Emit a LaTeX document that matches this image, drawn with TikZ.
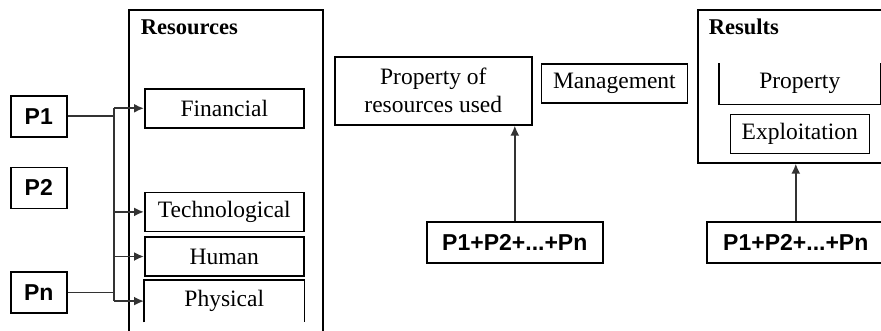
\documentclass[tikz,border=0pt]{standalone}
\usepackage{fontspec}
\setmainfont{Liberation Serif}
\setsansfont{Liberation Sans}
\usetikzlibrary{arrows,arrows.meta,positioning}

\begin{document}
\begin{tikzpicture}[
        x=1pt, y=-1pt,
        >={Latex[length=10pt,width=9pt]},
        node distance=4pt and 8pt,
        every path/.style={line width=1.6pt},
        resbox/.style={draw, line width=1.6pt, minimum width=159pt, minimum height=39pt, inner sep=0pt, align=center, font=\fontsize{23.5}{28}\selectfont},
        pbox/.style={draw, line width=1.6pt, minimum width=56pt, minimum height=41pt, inner sep=0pt, font=\sffamily\bfseries\fontsize{23}{26}\selectfont},
        frame/.style={draw, line width=1.6pt, anchor=north west, inner sep=0pt},
        title/.style={anchor=base west, inner sep=0pt, font=\bfseries\fontsize{22.5}{24}\selectfont},
        link/.style={draw=black!80, line width=1.8pt}
    ]
    \useasboundingbox (0,0) rectangle (881,330);

    % Nodes
    \node[frame, minimum width=194pt, minimum height=340pt] (resources) at (128,9) {};
    \node[title] (restitle) at (140,34) {Resources};
    \node[resbox, anchor=north west] (fin) at (144,88) {Financial};
    \node[resbox, below=63pt of fin] (tech) {Technological};
    \node[resbox, below=4pt of tech] (human) {Human};
    \node[resbox, draw=none, minimum height=41pt, below=3pt of human] (phys) {Physical};

    \node[pbox, anchor=north west] (p1) at (10,95) {P1};
    \node[pbox, below=29pt of p1] (p2) {P2};
    \node[pbox, below=62pt of p2] (pn) {Pn};
    \coordinate (trunk) at (114,0);

    \node[resbox, minimum width=197pt, minimum height=68pt, anchor=north west] (prop) at (334,56) {Property of\\resources used};
    \node[resbox, minimum width=146pt, right=8pt of prop, yshift=7.5pt] (mgmt) {Management};
    \node[pbox, minimum width=176pt, anchor=north west] (psum1) at (426,221) {P1+P2+...+Pn};

    \node[frame, minimum width=210pt, minimum height=153pt] (results) at (697,9) {};
    \node[title] (restitle2) at (708,34) {Results};
    \node[resbox, draw=none, minimum width=160pt, minimum height=40pt, anchor=north west] (propr) at (719,63) {Property};
    \node[resbox, minimum width=139pt, below=9pt of propr] (expl) {Exploitation};
    \node[pbox, minimum width=178pt, anchor=north west] (psum2) at (706,221) {P1+P2+...+Pn};

    % Open boxes
    \draw (phys.south west) |- (phys.north east) -- (phys.south east);
    \draw (propr.north west) |- (propr.south east) -- (propr.north east);

    % Edges
    \draw[link] (p1.east) -- (p1.east -| trunk);
    \draw[link] (pn.east) -- (pn.east -| trunk);
    \draw[link] (trunk |- fin.west) -- (trunk |- phys.west);
    \draw[link,->] (trunk |- fin.west) -- (fin.west);
    \draw[link,->] (trunk |- tech.west) -- (tech.west);
    \draw[link,->] (trunk |- human.west) -- (human.west);
    \draw[link,->] (trunk |- phys.west) -- (phys.west);
    \draw[link,->] (psum1.north) -- (psum1.north |- prop.south);
    \draw[link,->] (psum2.north) -- (psum2.north |- results.south);

\end{tikzpicture}
\end{document}
